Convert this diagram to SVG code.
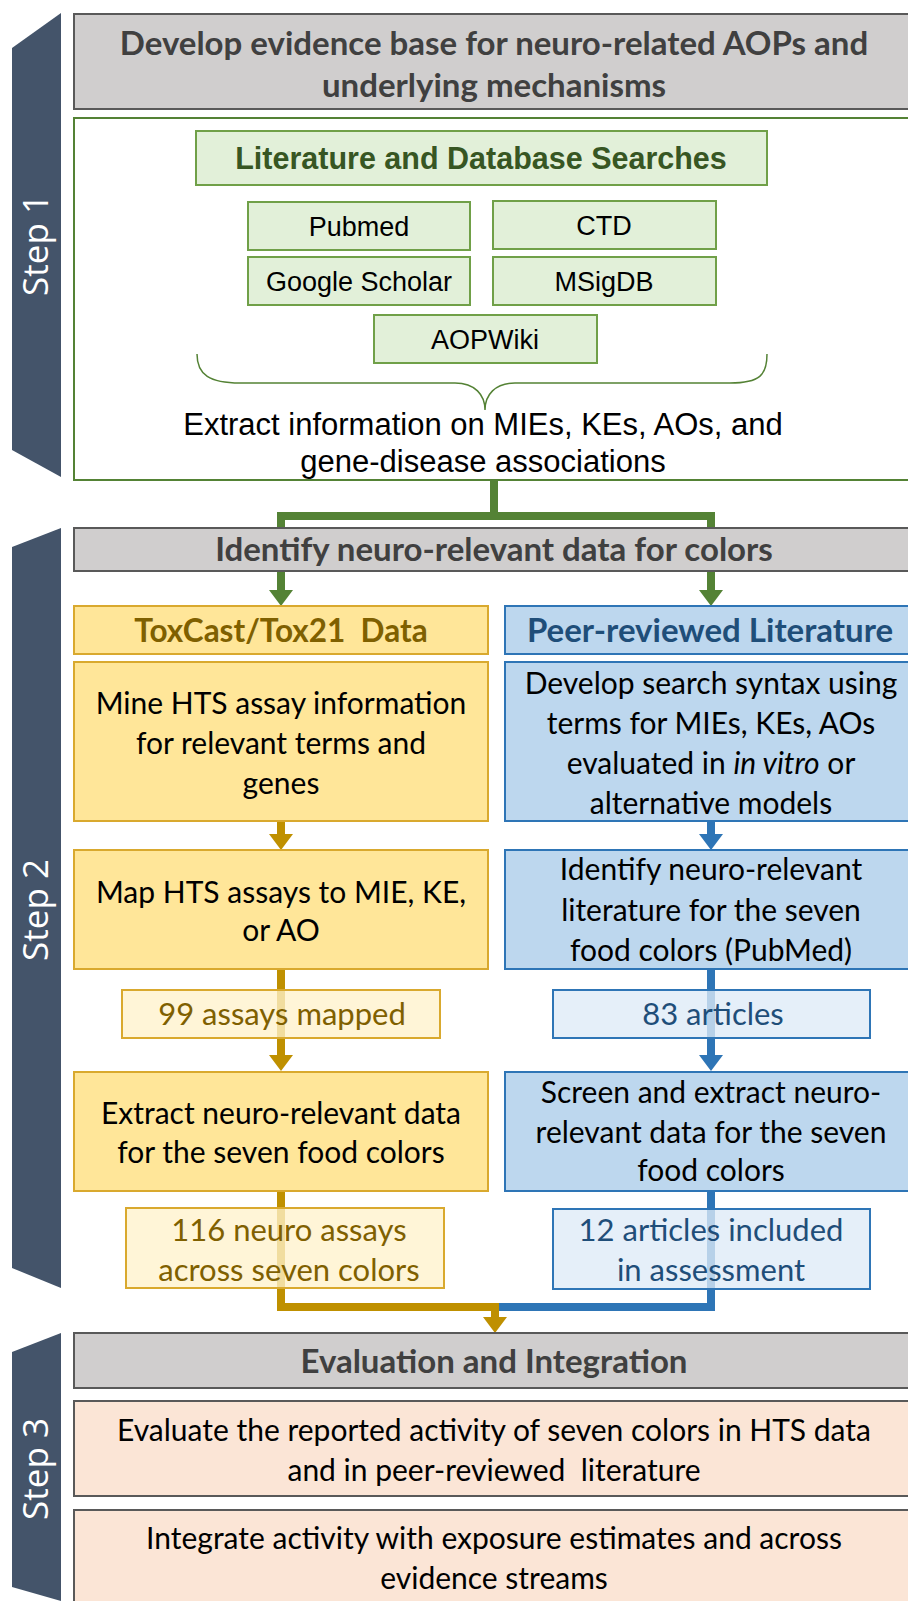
<svg xmlns="http://www.w3.org/2000/svg" width="908" height="1601" viewBox="0 0 908 1601">
<style>
.side{fill:#44546A}
.steplbl{font-family:"Open Sans",sans-serif;font-size:35px;fill:#fff;text-anchor:middle}
.gray{fill:#D0CECE;stroke:#595959;stroke-width:2}
.gtxt{font-family:Lato,sans-serif;font-weight:bold;font-size:33px;fill:#404040;text-anchor:middle}
.gbox{fill:#E2F0D9;stroke:#70A048;stroke-width:2}
.t{font-family:"Liberation Sans",Arial,sans-serif;font-size:27px;fill:#000;text-anchor:middle}
.tb{font-family:Lato,sans-serif;font-size:30px;fill:#000;text-anchor:middle}
.cnt{font-family:Lato,sans-serif;font-size:31px;text-anchor:middle}
.ar{font-family:"Liberation Sans",Arial,sans-serif;font-size:31px;fill:#000;text-anchor:middle}
.ybox{fill:#FFE699;stroke:#D9A92E;stroke-width:2}
.bbox{fill:#BDD7EE;stroke:#2E75B6;stroke-width:2}
.ycnt{fill:#FFF2CC;fill-opacity:0.78;stroke:#D9A92E;stroke-width:2}
.bcnt{fill:#DEEBF7;fill-opacity:0.78;stroke:#2E75B6;stroke-width:2}
.pink{fill:#FBE5D6;stroke:#595959;stroke-width:2}
.ytxt{fill:#7F6000}
.btxt{fill:#1F4E79}
.gl{fill:none;stroke:#548235;stroke-width:8}
.yl{fill:none;stroke:#BF9000;stroke-width:8}
.bl{fill:none;stroke:#2E75B6;stroke-width:8}
</style>

<!-- Sidebars -->
<g id="step1">
<polygon class="side" points="12,48 61,13 61,477 12,450"/>
<text class="steplbl" transform="translate(48,245) rotate(-90)">Step 1</text>
</g>
<g id="step2">
<polygon class="side" points="12,547 61,528 61,1288 12,1268"/>
<text class="steplbl" transform="translate(48,910) rotate(-90)">Step 2</text>
</g>
<g id="step3">
<polygon class="side" points="12,1352 61,1333 61,1601 12,1587"/>
<text class="steplbl" transform="translate(48,1469) rotate(-90)">Step 3</text>
</g>

<!-- Connectors -->
<g id="connectors">
<polyline class="gl" points="494,480 494,516 281,516 281,528"/>
<polyline class="gl" points="494,516 711,516 711,528"/>
<line class="gl" x1="281" y1="571" x2="281" y2="592"/>
<polygon fill="#548235" points="269,590 293,590 281,606"/>
<line class="gl" x1="711" y1="571" x2="711" y2="592"/>
<polygon fill="#548235" points="699,590 723,590 711,606"/>
<line class="yl" x1="281" y1="821" x2="281" y2="836"/>
<polygon fill="#BF9000" points="269,834 293,834 281,850"/>
<line class="bl" x1="711" y1="821" x2="711" y2="836"/>
<polygon fill="#2E75B6" points="699,834 723,834 711,850"/>
<line class="yl" x1="281" y1="969" x2="281" y2="1057"/>
<polygon fill="#BF9000" points="269,1055 293,1055 281,1071"/>
<line class="bl" x1="711" y1="969" x2="711" y2="1057"/>
<polygon fill="#2E75B6" points="699,1055 723,1055 711,1071"/>
<polyline class="yl" points="281,1191 281,1307 495,1307"/>
<polyline class="bl" points="711,1191 711,1307 495,1307"/>
<line class="yl" x1="495" y1="1303" x2="495" y2="1319"/>
<polygon fill="#BF9000" points="483,1317 507,1317 495,1333"/>
</g>

<!-- Step 1 -->
<g id="title1">
<rect class="gray" x="74" y="14" width="840" height="95"/>
<text class="gtxt" x="494" y="55">Develop evidence base for neuro-related AOPs and</text>
<text class="gtxt" x="494" y="97">underlying mechanisms</text>
</g>
<g id="step1box">
<rect x="74" y="118" width="840" height="362" fill="#fff" stroke="#548235" stroke-width="2"/>
</g>
<g id="litsearch">
<rect class="gbox" x="196" y="131" width="571" height="54"/>
<text class="t" x="481" y="169" style="fill:#375623;font-weight:bold;font-size:30.5px">Literature and Database Searches</text>
</g>
<g id="pubmed">
<rect class="gbox" x="248" y="202" width="222" height="48"/>
<text class="t" x="359" y="236">Pubmed</text>
</g>
<g id="ctd">
<rect class="gbox" x="493" y="201" width="223" height="48"/>
<text class="t" x="604" y="235">CTD</text>
</g>
<g id="scholar">
<rect class="gbox" x="248" y="257" width="222" height="48"/>
<text class="t" x="359" y="291">Google Scholar</text>
</g>
<g id="msigdb">
<rect class="gbox" x="493" y="257" width="223" height="48"/>
<text class="t" x="604" y="291">MSigDB</text>
</g>
<g id="aopwiki">
<rect class="gbox" x="374" y="315" width="223" height="48"/>
<text class="t" x="485" y="349">AOPWiki</text>
</g>
<g id="brace">
<path d="M197,354 C197,375 210,383 240,383 L455,383 C475,383 485,395 485,410 C485,395 495,383 515,383 L730,383 C760,383 767,375 767,354" fill="none" stroke="#548235" stroke-width="1.5"/>
</g>
<g id="extract">
<text class="ar" x="483" y="435">Extract information on MIEs, KEs, AOs, and</text>
<text class="ar" x="483" y="472">gene-disease associations</text>
</g>

<!-- Step 2 -->
<g id="title2">
<rect class="gray" x="74" y="528" width="840" height="43"/>
<text class="gtxt" x="494" y="561">Identify neuro-relevant data for colors</text>
</g>
<g id="toxhead">
<rect class="ybox" x="74" y="606" width="414" height="48"/>
<text class="gtxt ytxt" x="281" y="642" style="font-size:31.5px" xml:space="preserve">ToxCast/Tox21  Data</text>
</g>
<g id="peerhead">
<rect class="bbox" x="505" y="606" width="410" height="48"/>
<text class="gtxt btxt" x="710" y="642">Peer-reviewed Literature</text>
</g>
<g id="mine">
<rect class="ybox" x="74" y="662" width="414" height="159"/>
<text class="tb" x="281" y="714">Mine HTS assay information</text>
<text class="tb" x="281" y="754">for relevant terms and</text>
<text class="tb" x="281" y="794">genes</text>
</g>
<g id="syntax">
<rect class="bbox" x="505" y="662" width="410" height="159"/>
<text class="tb" x="711" y="694">Develop search syntax using</text>
<text class="tb" x="711" y="734">terms for MIEs, KEs, AOs</text>
<text class="tb" x="711" y="774">evaluated in <tspan font-style="italic">in vitro</tspan> or</text>
<text class="tb" x="711" y="814">alternative models</text>
</g>
<g id="map">
<rect class="ybox" x="74" y="850" width="414" height="119"/>
<text class="tb" x="281" y="903">Map HTS assays to MIE, KE,</text>
<text class="tb" x="281" y="941">or AO</text>
</g>
<g id="identify">
<rect class="bbox" x="505" y="850" width="410" height="119"/>
<text class="tb" x="711" y="880">Identify neuro-relevant</text>
<text class="tb" x="711" y="921">literature for the seven</text>
<text class="tb" x="711" y="961">food colors (PubMed)</text>
</g>
<g id="mapped99">
<rect class="ycnt" x="122" y="990" width="318" height="48"/>
<text class="cnt ytxt" x="282" y="1025">99 assays mapped</text>
</g>
<g id="articles83">
<rect class="bcnt" x="553" y="990" width="317" height="48"/>
<text class="cnt btxt" x="713" y="1025">83 articles</text>
</g>
<g id="extractdata">
<rect class="ybox" x="74" y="1072" width="414" height="119"/>
<text class="tb" x="281" y="1124">Extract neuro-relevant data</text>
<text class="tb" x="281" y="1163">for the seven food colors</text>
</g>
<g id="screen">
<rect class="bbox" x="505" y="1072" width="410" height="119"/>
<text class="tb" x="711" y="1103">Screen and extract neuro-</text>
<text class="tb" x="711" y="1143">relevant data for the seven</text>
<text class="tb" x="711" y="1181">food colors</text>
</g>
<g id="assays116">
<rect class="ycnt" x="126" y="1208" width="318" height="80"/>
<text class="cnt ytxt" x="289" y="1241">116 neuro assays</text>
<text class="cnt ytxt" x="289" y="1281">across seven colors</text>
</g>
<g id="articles12">
<rect class="bcnt" x="553" y="1209" width="317" height="80"/>
<text class="cnt btxt" x="711" y="1241">12 articles included</text>
<text class="cnt btxt" x="711" y="1281">in assessment</text>
</g>

<!-- Step 3 -->
<g id="title3">
<rect class="gray" x="74" y="1333" width="840" height="55"/>
<text class="gtxt" x="494" y="1373">Evaluation and Integration</text>
</g>
<g id="evaluate">
<rect class="pink" x="74" y="1401" width="840" height="95"/>
<text class="tb" x="494" y="1441">Evaluate the reported activity of seven colors in HTS data</text>
<text class="tb" x="494" y="1481" xml:space="preserve">and in peer-reviewed  literature</text>
</g>
<g id="integrate">
<rect class="pink" x="74" y="1510" width="840" height="100"/>
<text class="tb" x="494" y="1549">Integrate activity with exposure estimates and across</text>
<text class="tb" x="494" y="1589">evidence streams</text>
</g>
</svg>
